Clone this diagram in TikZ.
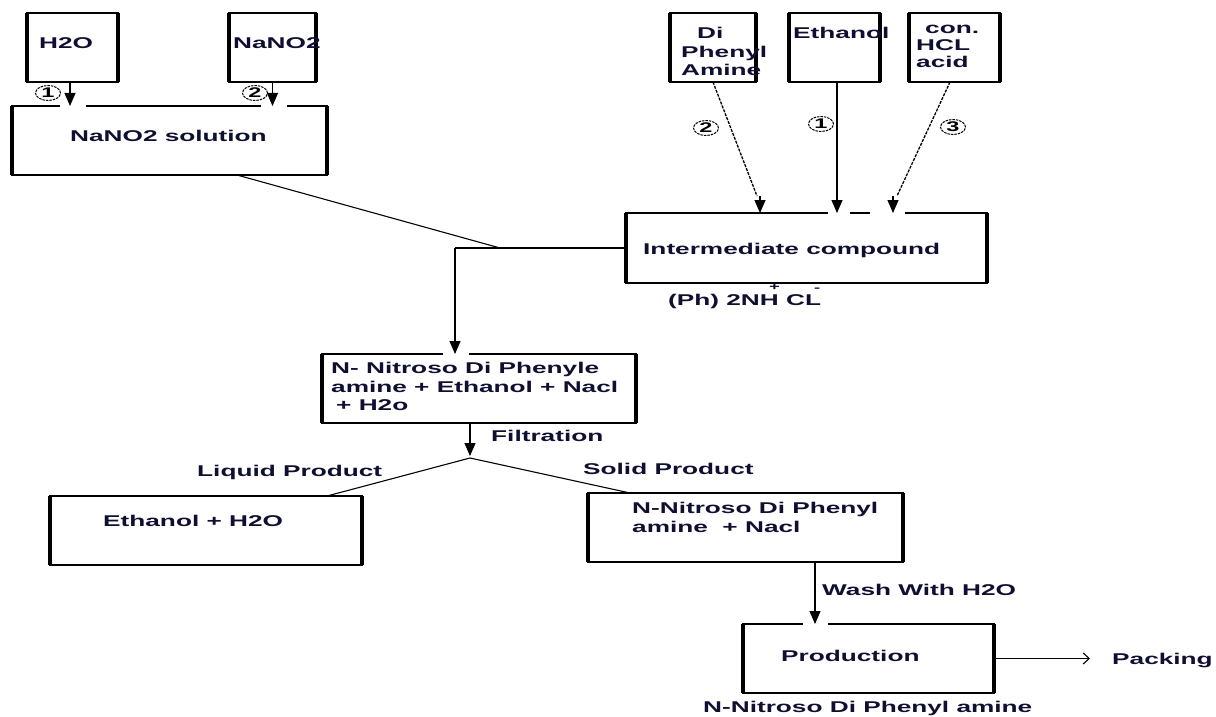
\documentclass[tikz,border=0pt]{standalone}
\usepackage{fontspec}
\newfontfamily\df[FakeStretch=1.68]{Liberation Sans}
\usetikzlibrary{arrows.meta,shapes.geometric}
\definecolor{ink}{RGB}{15,15,50}
\newcommand\mybox[5]{%
  \node[box, minimum width={#4-#2}, minimum height={#5-#3}] (#1) at ({(#2+#4)/2},{(#3+#5)/2}) {};
  \draw[side] (#1.north west) -- (#1.south west) (#1.north east) -- (#1.south east);}
\begin{document}
\begin{tikzpicture}[x=1pt,y=-1pt,
  txt/.style={font=\df\bfseries\fontsize{15.6}{18.5}\selectfont, text=ink, inner sep=0pt, anchor=west, align=left},
  box/.style={draw=black, line width=1.3pt, inner sep=0pt, outer sep=0pt},
  side/.style={line width=3.4pt},
  conn/.style={line width=1.1pt},
  arr/.style={conn, -{Triangle[length=13pt,width=11pt]}},
  dotl/.style={line width=1.3pt, dash pattern=on 3pt off 1.2pt},
  gap/.style={white, line width=3pt},
  num/.style={draw, dashed, dash pattern=on 2.5pt off 1pt, line width=1pt, ellipse, minimum width=25pt, minimum height=15pt, inner sep=0pt, font=\df\bfseries\fontsize{14}{14}\selectfont},
  tip/.style={conn, -{Straight Barb[length=6pt,width=11pt]}}]
\useasboundingbox (0,0) rectangle (1216,717);

% boxes
\mybox{h2o}{27}{13}{118}{82}
\mybox{nano}{229}{13}{316}{82}
\mybox{sol}{12}{106}{327}{175}
\mybox{dpa}{670}{13}{756}{82}
\mybox{eth}{789}{13}{880}{82}
\mybox{hcl}{909}{13}{1000}{82}
\mybox{inter}{626}{213}{987}{283}
\mybox{nn}{322}{354}{636}{423}
\mybox{liq}{50}{496}{362}{565}
\mybox{sld}{588}{493}{903}{562}
\mybox{prod}{743}{624}{994}{693}

% gaps in top edges where arrows enter
\draw[gap] (60,0 |- sol.north) -- (86,0 |- sol.north);
\draw[gap] (261,0 |- sol.north) -- (287,0 |- sol.north);
\draw[gap] (828,0 |- inter.north) -- (850,0 |- inter.north);
\draw[gap] (870,0 |- inter.north) -- (905,0 |- inter.north);
\draw[gap] (443,0 |- nn.north) -- (469,0 |- nn.north);
\draw[gap] (803,0 |- prod.north) -- (828,0 |- prod.north);

% texts
\node[txt] (t-h2o) at (39,43) {H2O};
\node[txt] (t-nano) at (233,43) {NaNO2};
\node[txt] (t-sol) at (70,136) {NaNO2 solution};
\node[txt] (t-dpa) at (681,51.5) {\hspace*{16pt}Di\\Phenyl\\Amine};
\node[txt] (t-eth) at (793,33) {Ethanol};
\node[txt, font=\df\bfseries\fontsize{15.6}{17}\selectfont] (t-hcl) at (916,46) {\hspace*{9pt}con.\\HCL\\acid};
\node[txt] (t-inter) at (643,250) {Intermediate compound};
\node[txt] (t-ph) at (668,301) {(Ph) 2NH CL};
\node[txt, font=\df\bfseries\fontsize{11}{11}\selectfont] (t-plus) at (769,287) {+};
\node[txt, font=\df\bfseries\fontsize{11}{11}\selectfont] (t-minus) at (814,290) {-};
\node[txt] (t-nn) at (331,386.5) {N- Nitroso Di Phenyle\\amine + Ethanol + Nacl\\\hspace*{5pt}+ H2o};
\node[txt] (t-filt) at (491,436) {Filtration};
\node[txt] (t-liqp) at (197,472) {Liquid Product};
\node[txt] (t-solp) at (583,469) {Solid Product};
\node[txt] (t-liq) at (103,521) {Ethanol + H2O};
\node[txt] (t-sld) at (632,517.5) {N-Nitroso Di Phenyl\\amine~ + Nacl};
\node[txt] (t-wash) at (822,590) {Wash With H2O};
\node[txt] (t-prod) at (781,656) {Production};
\node[txt] (t-pack) at (1112,660) {Packing};
\node[txt] (t-final) at (703,708) {N-Nitroso Di Phenyl amine};

% circled numbers
\node[num] (n1) at (48,93) {1};
\node[num] (n2) at (255,93) {2};
\node[num] (n3) at (706,128) {2};
\node[num] (n4) at (821,124) {1};
\node[num] (n5) at (953,127) {3};

% connectors
\draw[arr] (70,0 |- h2o.south) -- (70,0 |- sol.north);
\draw[arr] (nano.south) -- (nano.south |- sol.north);

\coordinate (a2) at (757,196);
\coordinate (a3) at (897,196);
\draw[dotl] (dpa.south) -- (a2);
\draw[arr] (760,196) -- (760,0 |- inter.north);
\draw[arr] (837,0 |- eth.south) -- (837,0 |- inter.north);
\draw[dotl] (950,0 |- hcl.south) -- (a3);
\draw[arr] (893,196) -- (893,0 |- inter.north);

\coordinate (j1) at (500,0 |- inter.west);
\coordinate (j2) at (455,0 |- inter.west);
\draw[conn] (237,0 |- sol.south) -- (j1);
\draw[conn] (j2) -- (inter.west);
\draw[arr] (j2) -- (j2 |- nn.north);

\coordinate (sp) at (470,458);
\draw[arr] (470,0 |- nn.south) -- (470,456);
\draw[conn] (sp) -- (327,0 |- liq.north);
\draw[conn] (sp) -- (630,0 |- sld.north);

\draw[arr] (815,0 |- sld.south) -- (815,0 |- prod.north);
\coordinate (pk) at (1090,0 |- prod.east);
\draw[tip] (prod.east) -- (pk);
\end{tikzpicture}
\end{document}
